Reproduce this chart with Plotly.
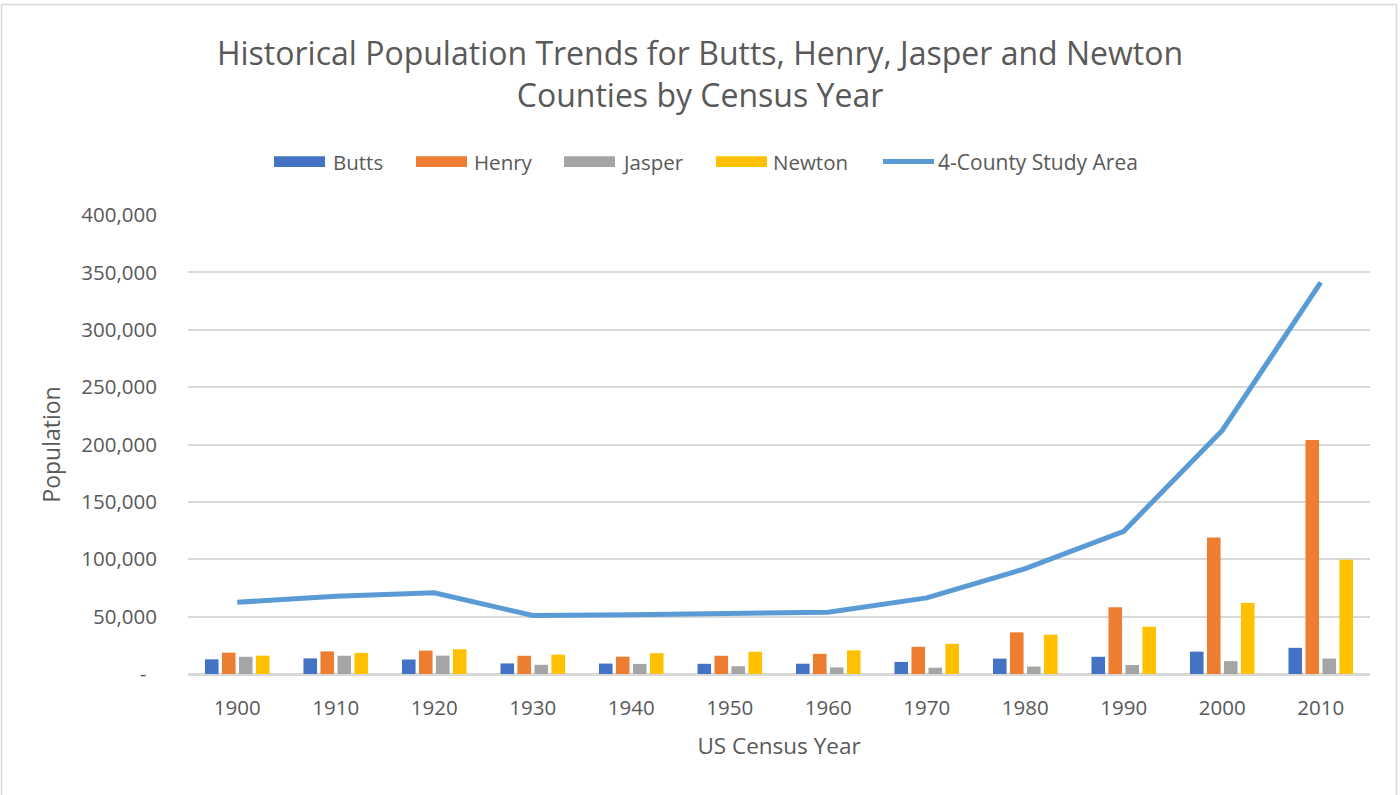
import plotly.graph_objects as go

# Census years and county populations
years = ["1900", "1910", "1920", "1930", "1940", "1950",
         "1960", "1970", "1980", "1990", "2000", "2010"]
butts = [12800, 13600, 12600, 9200, 9100, 8900, 8980, 10560, 13400, 15000, 19500, 22800]
henry = [18600, 19700, 20400, 15900, 15100, 15900, 17600, 23700, 36300, 58200, 119000, 203900]
jasper = [15000, 15900, 16000, 8000, 8800, 6800, 5700, 5500, 6500, 7800, 11200, 13500]
newton = [16000, 18400, 21600, 16900, 18200, 19400, 20600, 26300, 34300, 41200, 61800, 99600]
study_area = [62500, 67800, 70700, 51000, 51600, 52700, 53800, 66300, 91800, 124400, 212300, 341300]

y_tick_vals = [0, 50000, 100000, 150000, 200000, 250000, 300000, 350000, 400000]
y_tick_text = ["-\u00a0\u00a0", "50,000", "100,000", "150,000", "200,000",
               "250,000", "300,000", "350,000", "400,000"]

bar_series = [("Butts", butts, "#4472C4"), ("Henry", henry, "#ED7D31"),
              ("Jasper", jasper, "#A5A5A5"), ("Newton", newton, "#FFC000")]
line_color = "#5B9BD5"
text_color = "#595959"
grid_color = "#D9D9D9"
font_family = "Open Sans"

W, H = 1400, 795
M_L, M_R, M_T, M_B = 188, 30, 214.5, 120.5
PW, PH = W - M_L - M_R, H - M_T - M_B


def px_x(px):
    return (px - M_L) / PW


def px_y(py):
    return (H - M_B - py) / PH


fig = go.Figure()
for name, vals, color in bar_series:
    fig.add_trace(go.Bar(x=years, y=vals, name=name, marker_color=color,
                         marker_line_width=0, showlegend=False))
fig.add_trace(go.Scatter(x=years, y=study_area, name="4-County Study Area",
                         mode="lines", line=dict(color=line_color, width=5),
                         showlegend=False))

# Legend row: wide swatches followed by labels
legend_y = 161
legend_font = dict(family=font_family, size=20.5, color=text_color)
shapes = []
annotations = []
swatches = [(274, 325, 331, "Butts", "#4472C4"), (416, 467, 472, "Henry", "#ED7D31"),
            (564, 615, 620, "Jasper", "#A5A5A5"), (716, 767, 771, "Newton", "#FFC000")]
for x0, x1, tx, label, color in swatches:
    shapes.append(dict(type="rect", xref="paper", yref="paper",
                       x0=px_x(x0), x1=px_x(x1),
                       y0=px_y(legend_y + 5.5), y1=px_y(legend_y - 5.5),
                       fillcolor=color, line_width=0))
    annotations.append(dict(text=label, xref="paper", yref="paper",
                            x=px_x(tx), y=px_y(legend_y), xanchor="left",
                            yanchor="middle", showarrow=False, font=legend_font))
shapes.append(dict(type="line", xref="paper", yref="paper",
                   x0=px_x(883), x1=px_x(934), y0=px_y(legend_y), y1=px_y(legend_y),
                   line=dict(color=line_color, width=5)))
annotations.append(dict(text="4-County Study Area", xref="paper", yref="paper",
                        x=px_x(936), y=px_y(legend_y), xanchor="left",
                        yanchor="middle", showarrow=False,
                        font=dict(family=font_family, size=21, color=text_color)))

# Chart frame
shapes.append(dict(type="rect", xref="paper", yref="paper",
                   x0=px_x(1.5), x1=px_x(1396.5), y0=px_y(810), y1=px_y(3.5),
                   line=dict(color=grid_color, width=1.5), fillcolor="rgba(0,0,0,0)",
                   layer="below"))

fig.update_layout(
    width=W, height=H,
    margin=dict(l=M_L, r=M_R, t=M_T, b=M_B),
    paper_bgcolor="white", plot_bgcolor="white",
    barmode="group", bargap=0.31, bargroupgap=0.2,
    font=dict(family=font_family, color=text_color, size=20),
    title=dict(text="Historical Population Trends for Butts, Henry, Jasper and Newton<br>"
                    "Counties by Census Year",
               x=0.5, xanchor="center", y=1 - 65 / H, yanchor="middle",
               font=dict(family=font_family, size=32, color=text_color)),
    shapes=shapes,
    annotations=annotations,
    xaxis=dict(type="category", showgrid=False, showline=True,
               linecolor=grid_color, linewidth=1.5, ticks="",
               ticklabelstandoff=15,
               tickfont=dict(size=20.5, color=text_color),
               title=dict(text="US Census Year", standoff=18,
                          font=dict(size=22.5, color=text_color))),
    yaxis=dict(range=[0, 400000], tickvals=y_tick_vals, ticktext=y_tick_text,
               showgrid=True, gridcolor=grid_color, gridwidth=1.5,
               zeroline=True, zerolinecolor=grid_color, zerolinewidth=1.5,
               ticks="", ticklabelstandoff=30,
               tickfont=dict(size=20.5, color=text_color),
               title=dict(text="Population", standoff=14,
                          font=dict(size=23, color=text_color))),
)

fig.write_html("out.html")
